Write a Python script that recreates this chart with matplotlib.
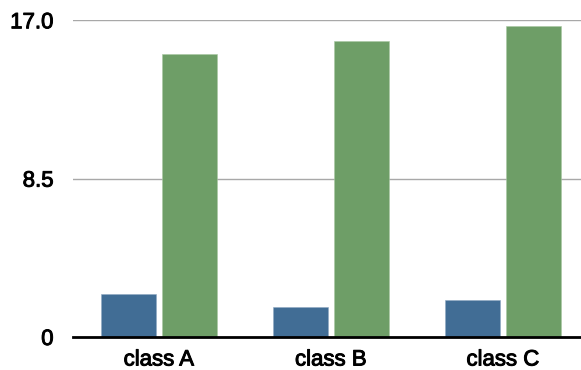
import matplotlib
matplotlib.use("Agg")
import matplotlib.pyplot as plt
import matplotlib.patheffects as pe
import numpy as np

categories = ["class A", "class B", "class C"]
series1 = [2.31, 1.62, 1.98]
series2 = [15.19, 15.87, 16.69]
yticks = [0, 8.5, 17.0]
ytick_labels = ["0", "8.5", "17.0"]

plt.rcParams['font.family'] = ['Liberation Sans', 'DejaVu Sans']

fig = plt.figure(figsize=(5.81, 3.70), dpi=100)
ax = fig.add_axes([73/581, 33/370, (589-73)/581, (337-20.3)/370])

x = np.arange(len(categories))
w = 0.318
off = 0.179
ax.bar(x - off, series1, width=w, color="#416D95", edgecolor="#8FA9C2", linewidth=0.4, zorder=3)
ax.bar(x + off, series2, width=w, color="#6E9E67", edgecolor="#A8C8A2", linewidth=0.4, zorder=3)

ax.set_xlim(-0.5, 2.5)
ax.set_ylim(0, 17)
ax.set_yticks(yticks)
ax.set_yticklabels(ytick_labels)
ax.set_xticks(x)
ax.set_xticklabels(categories)

for y in yticks[1:]:
    ax.axhline(y, color="#A8A8A8", linewidth=1.0, zorder=1)

for s in ["left", "right", "top"]:
    ax.spines[s].set_visible(False)
ax.spines["bottom"].set_linewidth(2.0)
ax.spines["bottom"].set_color("black")
ax.spines["bottom"].set_zorder(4)

ax.tick_params(axis="y", length=0, pad=14, labelsize=16)
ax.tick_params(axis="x", length=0, pad=9, labelsize=16)

effects = [pe.withStroke(linewidth=0.7, foreground="black")]
for lbl in ax.get_xticklabels() + ax.get_yticklabels():
    lbl.set_path_effects(effects)

fig.savefig("out.png", dpi=100)
